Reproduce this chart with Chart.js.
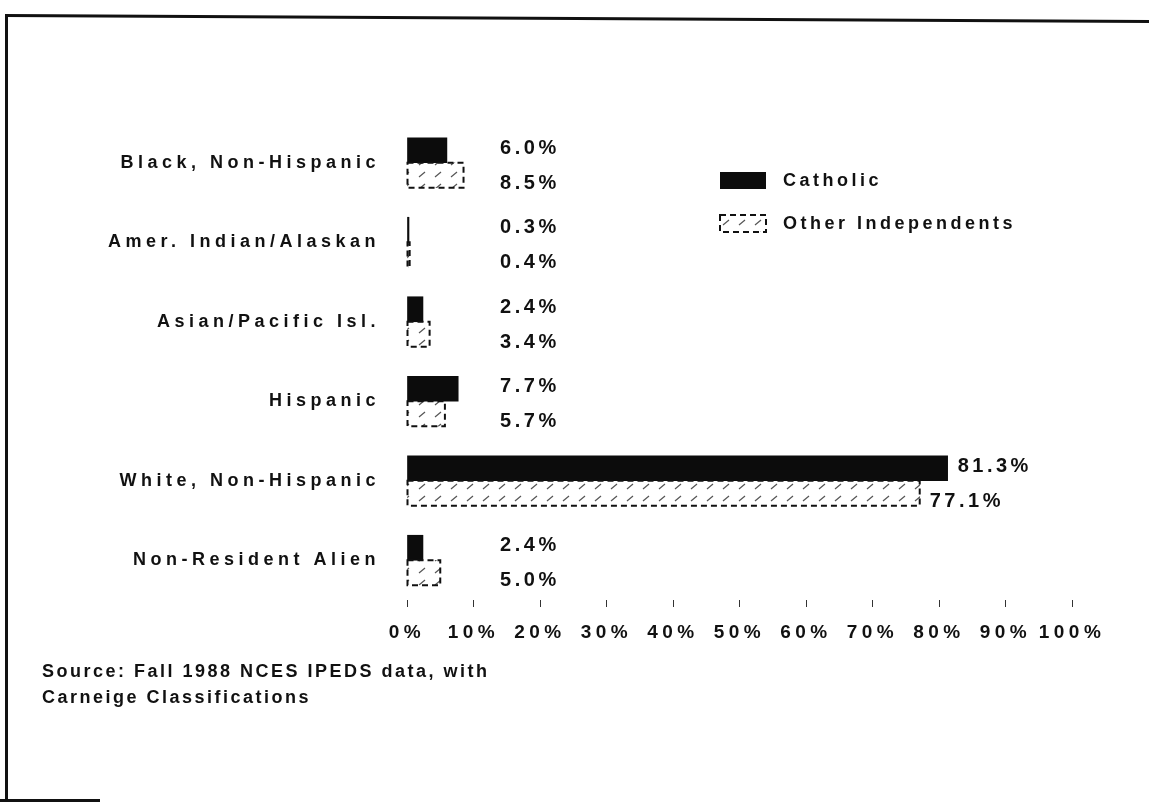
<!DOCTYPE html>
<html>
<head>
<meta charset="utf-8">
<script src="https://cdn.jsdelivr.net/npm/chart.js@4.4.0/dist/chart.umd.min.js"></script>
<style>
  html, body { margin: 0; padding: 0; background: #fff; }
  #wrap { position: relative; width: 1149px; height: 807px; overflow: hidden; }
  #box { position: absolute; left: 0; top: 0; width: 1149px; height: 807px; }
  .line { position: absolute; background: #111; pointer-events: none; }
  #top { left: 5px; top: 14px; width: 1160px; height: 3px; transform: rotate(0.3deg); transform-origin: left center; }
  #left { left: 5px; top: 14px; width: 3px; height: 788px; }
  #bottom { left: 0; top: 799px; width: 100px; height: 3px; }
  #source { position: absolute; left: 42px; top: 658px; font: bold 18px 'Liberation Sans', Arial, sans-serif;
            letter-spacing: 2.5px; line-height: 26px; color: #111; }
</style>
</head>
<body>
<div id="wrap">
  <div id="box"><canvas id="c"></canvas></div>
  <div class="line" id="top"></div>
  <div class="line" id="left"></div>
  <div class="line" id="bottom"></div>
  <div id="source"></div>
</div>
<script>
const categories = ['Black, Non-Hispanic', 'Amer. Indian/Alaskan', 'Asian/Pacific Isl.', 'Hispanic', 'White, Non-Hispanic', 'Non-Resident Alien'];
const catholic = [6.0, 0.3, 2.4, 7.7, 81.3, 2.4];
const otherIndependents = [8.5, 0.4, 3.4, 5.7, 77.1, 5.0];
const seriesNames = ['Catholic', 'Other Independents'];
const sourceLines = ['Source: Fall 1988 NCES IPEDS data, with', 'Carneige Classifications'];

document.getElementById('source').innerHTML = sourceLines.join('<br>');

const FONT = "'Liberation Sans', Arial, sans-serif";
const INK = '#111';

const canvas = document.getElementById('c');
const ctx0 = canvas.getContext('2d');

// sparse diagonal dashes, like the scanned hatching
function makeHatch() {
  const p = document.createElement('canvas');
  p.width = 16; p.height = 12;
  const g = p.getContext('2d');
  g.fillStyle = '#fff'; g.fillRect(0, 0, 16, 12);
  g.strokeStyle = '#555'; g.lineWidth = 1.2;
  g.beginPath(); g.moveTo(3, 9); g.lineTo(9, 4); g.stroke();
  return ctx0.createPattern(p, 'repeat');
}

const spacing = {
  id: 'spacing',
  beforeDraw(chart) { chart.ctx.letterSpacing = '4.5px'; }
};

const dashedOutline = {
  id: 'dashedOutline',
  afterDatasetsDraw(chart) {
    const ctx = chart.ctx;
    ctx.save();
    ctx.strokeStyle = INK; ctx.lineWidth = 2; ctx.setLineDash([6, 4]);
    chart.getDatasetMeta(1).data.forEach(bar => {
      const { x, y, base, height } = bar.getProps(['x', 'y', 'base', 'height'], true);
      ctx.strokeRect(Math.min(base, x), y - height / 2, Math.abs(x - base), height);
    });
    ctx.restore();
  }
};

const valueLabels = {
  id: 'valueLabels',
  afterDatasetsDraw(chart) {
    const ctx = chart.ctx;
    const col = chart.scales.x.getPixelForValue(14);
    ctx.save();
    ctx.font = 'bold 20px ' + FONT;
    ctx.letterSpacing = '3.5px';
    ctx.fillStyle = INK; ctx.textAlign = 'left'; ctx.textBaseline = 'middle';
    chart.data.datasets.forEach((ds, i) => {
      chart.getDatasetMeta(i).data.forEach((bar, j) => {
        const tx = Math.max(bar.x + 10, col);
        const ty = bar.y + (i === 0 ? -2 : 8);
        ctx.fillText(ds.data[j].toFixed(1) + '%', tx, ty);
      });
    });
    ctx.restore();
  }
};

const legendBox = {
  id: 'legendBox',
  afterDraw(chart) {
    const ctx = chart.ctx;
    ctx.save();
    ctx.font = 'bold 18px ' + FONT;
    ctx.letterSpacing = '3.5px';
    ctx.textBaseline = 'middle'; ctx.textAlign = 'left';
    chart.data.datasets.forEach((ds, i) => {
      const y = 172 + i * 43;
      ctx.fillStyle = ds.backgroundColor;
      ctx.fillRect(720, y, 46, 17);
      if (i === 1) {
        ctx.strokeStyle = INK; ctx.lineWidth = 2; ctx.setLineDash([6, 4]);
        ctx.strokeRect(720, y, 46, 17);
        ctx.setLineDash([]);
      }
      ctx.fillStyle = INK;
      ctx.fillText(ds.label, 783, y + 9);
    });
    ctx.restore();
  }
};

new Chart(canvas, {
  type: 'bar',
  data: {
    labels: categories,
    datasets: [
      { label: seriesNames[0], data: catholic, backgroundColor: '#0c0c0c', borderWidth: 0 },
      { label: seriesNames[1], data: otherIndependents, backgroundColor: makeHatch(), borderWidth: 0 }
    ]
  },
  options: {
    indexAxis: 'y',
    responsive: true, maintainAspectRatio: false, animation: false,
    barThickness: 25,
    layout: { padding: { top: 123, right: 77, left: 0, bottom: 0 } },
    plugins: { legend: { display: false }, tooltip: { enabled: false } },
    scales: {
      x: {
        min: 0, max: 100,
        border: { display: false },
        grid: { display: true, drawOnChartArea: false, drawTicks: true, tickLength: 7, color: '#333', lineWidth: 1 },
        ticks: { stepSize: 10, autoSkip: false, maxRotation: 0, padding: 14, color: INK,
                 font: { family: FONT, size: 19, weight: 'bold' }, callback: v => v + '%' },
        afterFit: s => { s.height = 207; }
      },
      y: {
        border: { display: false },
        grid: { display: false, drawTicks: false },
        ticks: { padding: 27, color: INK, font: { family: FONT, size: 18, weight: 'bold' } },
        afterFit: s => { s.width = 407; }
      }
    }
  },
  plugins: [spacing, dashedOutline, valueLabels, legendBox]
});
</script>
</body>
</html>
